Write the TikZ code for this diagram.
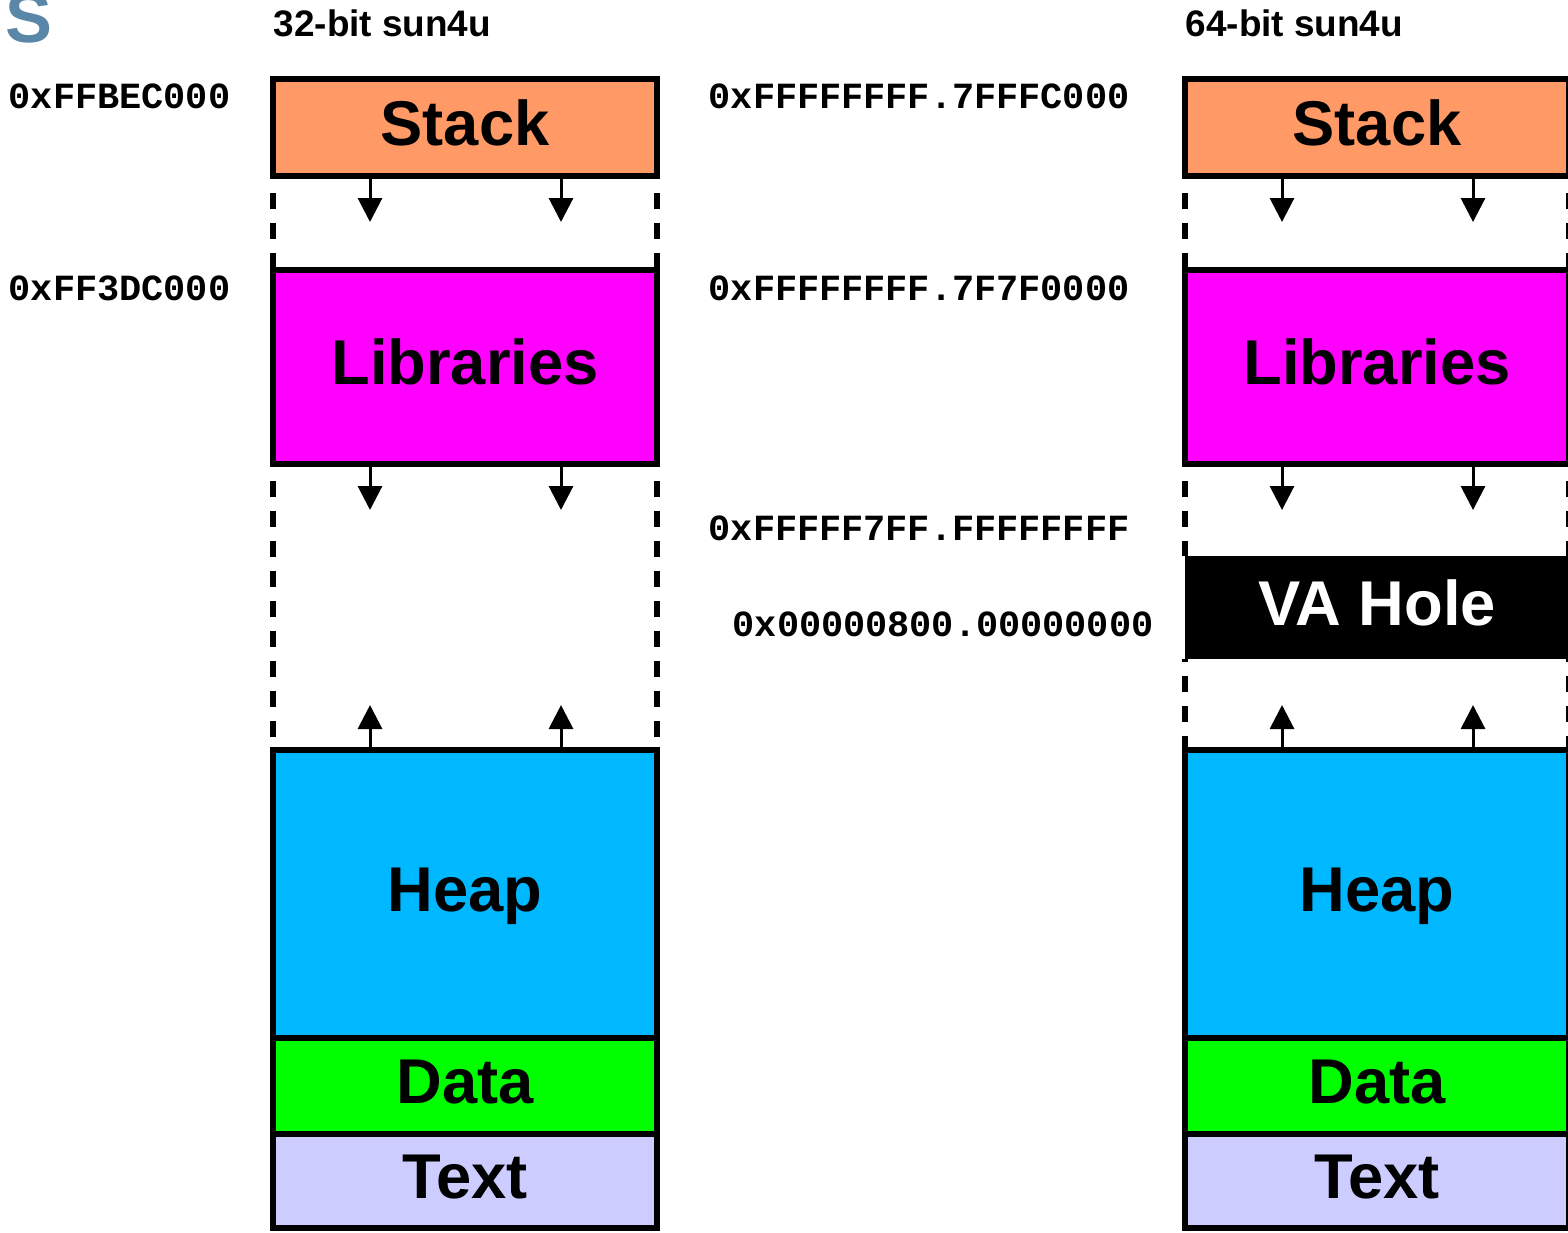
\documentclass[tikz,border=0pt]{standalone}
\usepackage{fontspec}
\setmainfont{Liberation Sans}
\setmonofont{Liberation Mono}
\usepackage{tikz}
\usetikzlibrary{arrows.meta,calc,positioning}

\definecolor{stackcol}{RGB}{255,153,102}
\definecolor{libcol}{RGB}{255,0,255}
\definecolor{heapcol}{RGB}{0,184,255}
\definecolor{datacol}{RGB}{0,255,0}
\definecolor{textcol}{RGB}{204,204,255}
\definecolor{titlecol}{RGB}{90,135,167}

\begin{document}
\begin{tikzpicture}[
    seg/.style={rectangle, draw, line width=0.06cm, minimum width=3.84cm, inner sep=0, outer sep=0,
      font=\fontsize{18}{18}\selectfont\bfseries, text height=0.45cm, text depth=0.1cm},
    gapside/.style={line width=0.06cm, dash pattern=on 0.16cm off 0.14cm, dash phase=0.13cm},
    growarrow/.style={-{Triangle[width=0.24cm,length=0.24cm]}, line width=0.03cm},
    addr/.style={font=\ttfamily\bfseries\fontsize{10.5}{12}\selectfont, inner sep=0},
    head/.style={font=\bfseries\fontsize{10.5}{12}\selectfont, inner sep=0, anchor=base west}]
    \useasboundingbox (0,0) rectangle (15.68,-12.32);

    \node(title) [anchor=base west, inner sep=0, text=titlecol, font=\fontsize{20}{20}\selectfont\bfseries] at (0.05,-0.42) {S};

    % 32-bit layout
    \node(stack32) [seg, fill=stackcol, minimum height=0.97cm] at (4.65,-1.275) {Stack};
    \node(lib32) [seg, fill=libcol, minimum height=1.94cm, below = 0.94cm of stack32] {Libraries};
    \node(heap32) [seg, fill=heapcol, minimum height=2.88cm, below = 2.86cm of lib32] {Heap};
    \node(data32) [seg, fill=datacol, minimum height=0.96cm, below = 0cm of heap32] {Data};
    \node(text32) [seg, fill=textcol, minimum height=0.94cm, below = 0cm of data32] {Text};
    \node(head32) [head] at ([yshift=0.43cm]stack32.north west) {32-bit sun4u};

    \draw[gapside] (stack32.south west) -- (lib32.north west);
    \draw[gapside] (stack32.south east) -- (lib32.north east);
    \draw[gapside] (lib32.south west) -- (heap32.north west);
    \draw[gapside] (lib32.south east) -- (heap32.north east);
    \draw[growarrow] ([xshift=-0.95cm]stack32.south) -- ++(0,-0.46);
    \draw[growarrow] ([xshift=0.96cm]stack32.south) -- ++(0,-0.46);
    \draw[growarrow] ([xshift=-0.95cm]lib32.south) -- ++(0,-0.46);
    \draw[growarrow] ([xshift=0.96cm]lib32.south) -- ++(0,-0.46);
    \draw[growarrow] ([xshift=-0.95cm]heap32.north) -- ++(0,0.45);
    \draw[growarrow] ([xshift=0.96cm]heap32.north) -- ++(0,0.45);

    \node(a32top) [addr, anchor=base east] at (2.31,-1.08) {0xFFBEC000};
    \node(a32lib) [addr, anchor=base east] at (2.31,-3.00) {0xFF3DC000};

    % 64-bit layout
    \node(stack64) [seg, fill=stackcol, minimum height=0.97cm] at (13.77,-1.275) {Stack};
    \node(lib64) [seg, fill=libcol, minimum height=1.94cm, below = 0.94cm of stack64] {Libraries};
    \node(hole64) [seg, draw=none, fill=black, text=white, minimum height=1.03cm, below = 0.92cm of lib64] {VA Hole};
    \node(heap64) [seg, fill=heapcol, minimum height=2.88cm, below = 0.91cm of hole64] {Heap};
    \node(data64) [seg, fill=datacol, minimum height=0.96cm, below = 0cm of heap64] {Data};
    \node(text64) [seg, fill=textcol, minimum height=0.94cm, below = 0cm of data64] {Text};
    \node(head64) [head] at ([yshift=0.43cm]stack64.north west) {64-bit sun4u};

    \draw[gapside] (stack64.south west) -- (lib64.north west);
    \draw[gapside] (stack64.south east) -- (lib64.north east);
    \draw[gapside] (lib64.south west) -- (hole64.north west);
    \draw[gapside] (lib64.south east) -- (hole64.north east);
    \draw[gapside] (hole64.south west) -- (heap64.north west);
    \draw[gapside] (hole64.south east) -- (heap64.north east);
    \draw[growarrow] ([xshift=-0.95cm]stack64.south) -- ++(0,-0.46);
    \draw[growarrow] ([xshift=0.96cm]stack64.south) -- ++(0,-0.46);
    \draw[growarrow] ([xshift=-0.95cm]lib64.south) -- ++(0,-0.46);
    \draw[growarrow] ([xshift=0.96cm]lib64.south) -- ++(0,-0.46);
    \draw[growarrow] ([xshift=-0.95cm]heap64.north) -- ++(0,0.45);
    \draw[growarrow] ([xshift=0.96cm]heap64.north) -- ++(0,0.45);

    \node(a64top) [addr, anchor=base west] at (7.08,-1.08) {0xFFFFFFFF.7FFFC000};
    \node(a64lib) [addr, anchor=base west] at (7.08,-3.00) {0xFFFFFFFF.7F7F0000};
    \node(a64hi) [addr, anchor=base west] at (7.08,-5.40) {0xFFFFF7FF.FFFFFFFF};
    \node(a64lo) [addr, anchor=base west] at (7.32,-6.36) {0x00000800.00000000};
\end{tikzpicture}
\end{document}
